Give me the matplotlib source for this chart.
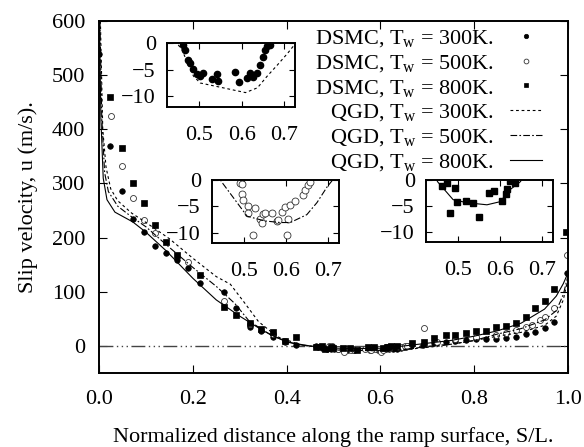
import numpy as np
import matplotlib
matplotlib.use("Agg")
import matplotlib.pyplot as plt

plt.rcParams["font.family"] = ["Liberation Serif", "DejaVu Serif"]
plt.rcParams["mathtext.fontset"] = "custom"
plt.rcParams["mathtext.rm"] = "Liberation Serif"
plt.rcParams["mathtext.it"] = "Liberation Serif:italic"

# ---- DSMC data (S/L, slip velocity m/s) ----
x_300 = [0.0, 0.023, 0.049, 0.072, 0.096, 0.119, 0.142, 0.166, 0.19, 0.215,
         0.266, 0.293, 0.323, 0.346, 0.371, 0.396, 0.42,
         0.4625, 0.468, 0.475, 0.479, 0.486, 0.495, 0.502, 0.509, 0.53, 0.542,
         0.544, 0.584, 0.594, 0.612, 0.619, 0.626, 0.636, 0.643, 0.65, 0.654,
         0.659, 0.666,
         0.69, 0.715, 0.74, 0.76, 0.783, 0.804, 0.826, 0.847, 0.868, 0.889,
         0.91, 0.93, 0.951, 0.97, 0.998]
u_300 = [539, 369, 286, 234, 211, 185, 172, 159, 144, 116,
         100, 70, 35, 28, 17, 8, 2,
         -0.4, -1.3, -3.1, -3.7, -4.8, -5.9, -6.1, -5.6, -6.7, -5.9,
         -7.2, -5.4, -7.4, -6.5, -5.6, -6.3, -5.6, -4.1, -2.6, -1.3,
         -0.6, -0.4,
         2, 5, 8, 10, 11, 13, 13, 13, 15, 17,
         22, 26, 33, 44, 135]

x_500 = [0.025, 0.049, 0.072, 0.096, 0.119, 0.19, 0.266, 0.323, 0.371, 0.396,
         0.491, 0.496, 0.496, 0.498, 0.51, 0.527, 0.51, 0.522, 0.538, 0.543,
         0.545, 0.55, 0.567, 0.578, 0.581, 0.59, 0.597, 0.602, 0.605, 0.61,
         0.621, 0.64, 0.645, 0.652, 0.656,
         0.694, 0.72, 0.76, 0.804, 0.847, 0.868, 0.889, 0.91, 0.923, 0.94,
         0.951, 0.97, 0.998]
u_500 = [425, 333, 274, 232, 208, 155, 83, 40, 22, 10,
         -0.6, -0.8, -2.6, -3.8, -4.9, -5.3, -6.2, -10.4, -7.5, -8.1,
         -6.4, -6.2, -6.2, -7.9, -7.7, -6.0, -5.1, -10.4, -7.5, -4.7,
         -4.0, -2.8, -1.9, -0.9, -0.4,
         33, 8, 12, 16, 20, 24, 30, 35, 39, 48,
         54, 70, 168]

x_800 = [0.023, 0.049, 0.072, 0.096, 0.119, 0.142, 0.166, 0.215, 0.266, 0.293,
         0.323, 0.346, 0.371, 0.396, 0.42,
         0.463, 0.475, 0.494, 0.482, 0.498, 0.52, 0.536, 0.55, 0.574, 0.586,
         0.605, 0.614, 0.616, 0.623, 0.635,
         0.668, 0.694, 0.715, 0.74, 0.76, 0.783, 0.804, 0.826, 0.847, 0.868,
         0.889, 0.91, 0.93, 0.951, 0.97, 0.996]
u_800 = [460, 365, 301, 264, 223, 192, 168, 131, 72, 57,
         42, 31, 26, 9, 17,
         -1.2, -0.6, -1.5, -6.3, -4.2, -4.0, -4.4, -7.1, -2.5, -2.1,
         -4.0, -2.7, -1.7, -0.2, -0.6,
         6, 8, 15, 20, 20, 24, 28, 28, 35, 37,
         42, 54, 70, 83, 105, 210]

# ---- QGD curves ----
q300_x = [0.003, 0.008, 0.015, 0.025, 0.04, 0.07, 0.1, 0.15, 0.2, 0.25, 0.28,
          0.31, 0.34, 0.38, 0.43, 0.46, 0.487, 0.503, 0.574, 0.609, 0.637,
          0.66, 0.684, 0.708, 0.723, 0.75, 0.8, 0.85, 0.9, 0.95, 0.975, 0.99, 1.0]
q300_u = [600, 400, 330, 290, 268, 245, 228, 198, 162, 128, 114,
          80, 45, 17, 2, -1.3, -6.2, -7.5, -8.7, -9.3, -8.4,
          -6.2, -4.1, -1.9, -0.4, 3, 10, 18, 25, 38, 55, 85, 125]

q500_x = [0.002, 0.006, 0.012, 0.02, 0.04, 0.07, 0.1, 0.15, 0.2, 0.25, 0.29,
          0.32, 0.37, 0.42, 0.45, 0.508, 0.55, 0.586, 0.61, 0.649, 0.673,
          0.697, 0.72, 0.75, 0.8, 0.85, 0.9, 0.95, 0.975, 0.99, 1.0]
q500_u = [600, 420, 320, 285, 258, 238, 220, 182, 145, 110, 78,
          46, 18, 3, -0.6, -6.9, -7.8, -8.1, -8.1, -6.6, -4.3,
          -1.3, 1, 3, 10, 22, 32, 48, 65, 95, 130]

q800_x = [0.001, 0.004, 0.009, 0.017, 0.034, 0.072, 0.1, 0.144, 0.2, 0.25,
          0.3, 0.35, 0.4, 0.453, 0.489, 0.522, 0.569, 0.6, 0.623, 0.647,
          0.7, 0.75, 0.8, 0.85, 0.9, 0.95, 0.975, 0.99, 1.0]
q800_u = [600, 420, 310, 270, 247, 229, 210, 175, 125, 85,
          55, 28, 7, -0.4, -3.8, -4.4, -4.8, -4.2, -1.9, -0.4,
          5, 10, 18, 28, 42, 68, 92, 115, 135]

LABELS = [r"DSMC, T$_\mathrm{w}$ = 300K.", r"DSMC, T$_\mathrm{w}$ = 500K.",
          r"DSMC, T$_\mathrm{w}$ = 800K.", r"QGD, T$_\mathrm{w}$ = 300K.",
          r"QGD, T$_\mathrm{w}$ = 500K.", r"QGD, T$_\mathrm{w}$ = 800K."]

W, H = 584, 447
FS = 16
fig = plt.figure(figsize=(W / 100, H / 100), dpi=100)


def px_axes(x0, y0, x1, y1):
    return fig.add_axes([x0 / W, (H - y1) / H, (x1 - x0) / W, (y1 - y0) / H])


def draw_series(ax, ms, lw):
    ax.plot(x_300, u_300, ls="none", marker="o", ms=ms, mfc="black",
            mec="black", mew=0.5, label=LABELS[0])
    ax.plot(x_500, u_500, ls="none", marker="o", ms=ms + 0.3, mfc="white",
            mec="#333333", mew=0.6, label=LABELS[1])
    ax.plot(x_800, u_800, ls="none", marker="s", ms=ms, mfc="black",
            mec="black", mew=0.5, label=LABELS[2])
    ax.plot(q300_x, q300_u, color="black", lw=lw, dashes=(2.5, 2.5),
            label=LABELS[3])
    ax.plot(q500_x, q500_u, color="black", lw=lw, dashes=(6, 2, 1.5, 2),
            label=LABELS[4])
    ax.plot(q800_x, q800_u, color="black", lw=lw, label=LABELS[5])


def style(ax, length, pad_x, pad_y):
    for s in ax.spines.values():
        s.set_linewidth(1.4)
    ax.tick_params(direction="in", top=True, right=True, length=length,
                   width=0.8, labelsize=FS)
    ax.tick_params(axis="x", pad=pad_x)
    ax.tick_params(axis="y", pad=pad_y)


# ---- main axes ----
ax = px_axes(99, 21, 568, 373)
ax.plot([0, 1], [0, 0], color="#444444", lw=1.0,
        dashes=(10, 2.5, 1, 2.5, 1, 2.5, 1, 2.5))
draw_series(ax, 4.0, 0.8)
ax.set_xlim(0, 1)
ax.set_ylim(-50, 600)
ax.set_xticks([0, 0.2, 0.4, 0.6, 0.8, 1.0])
ax.set_xticklabels(["0.0", "0.2", "0.4", "0.6", "0.8", "1.0"])
ax.set_yticks(range(0, 601, 100))
style(ax, 6, 12, 10)
ax.set_xlabel("Normalized distance along the ramp surface, S/L.",
              fontsize=FS, labelpad=13)
ax.set_ylabel("Slip velocity, u (m/s).", fontsize=FS, labelpad=10)

h, l = ax.get_legend_handles_labels()
ax.legend(h, l, loc="upper right", bbox_to_anchor=(0.945, 0.98),
          frameon=False, markerfirst=False, fontsize=FS, borderpad=0,
          borderaxespad=0, handlelength=1.45, handletextpad=0.7,
          labelspacing=0.17, markerscale=0.8)

# ---- insets ----
insets = [(167, 43, 295, 107), (212, 180, 339, 243), (426, 180, 553, 242)]
for i, box in enumerate(insets):
    ia = px_axes(*box)
    ia.set_facecolor("white")
    if i == 0:
        ia.plot(x_300, u_300, ls="none", marker="o", ms=4.5, mfc="black",
                mec="black")
        ia.plot(q300_x, q300_u, color="black", lw=0.8, dashes=(2.5, 2.5))
    elif i == 1:
        ia.plot(x_500, u_500, ls="none", marker="o", ms=5, mfc="white",
                mec="#333333", mew=0.6)
        ia.plot(q500_x, q500_u, color="black", lw=0.8, dashes=(6, 2, 1.5, 2))
    else:
        ia.plot(x_800, u_800, ls="none", marker="s", ms=4.5, mfc="black",
                mec="black")
        ia.plot(q800_x, q800_u, color="black", lw=0.8)
    ia.set_xlim(0.425, 0.725)
    ia.set_ylim(-12, 0)
    ia.set_xticks([0.5, 0.6, 0.7])
    ia.set_yticks([0, -5, -10])
    style(ia, 4, 14, 8)

fig.savefig("out.png", dpi=100)
